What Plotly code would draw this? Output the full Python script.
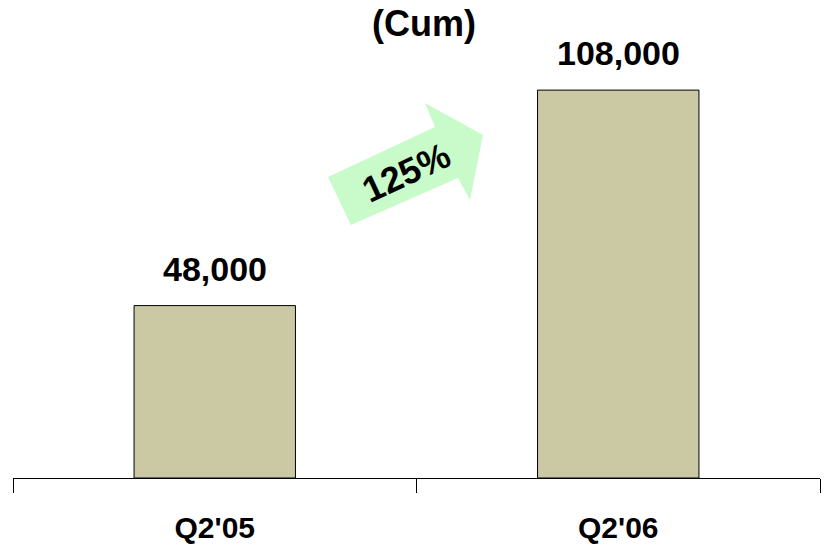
import plotly.graph_objects as go

categories = ["Q2'05", "Q2'06"]
values = [48000, 108000]
value_labels = ["48,000", "108,000"]
title_text = "(Cum)"
growth_text = "125%"

W, H = 825, 546
ML, MR, MT, MB = 13, 5, 47, 68
PW, PH = W - ML - MR, H - MT - MB


def px(x, y):
    return (x - ML) / PW, (H - MB - y) / PH


arrow_pts = [(328, 177), (435, 127), (425, 103), (483, 135), (470, 200), (458, 178), (351, 225)]
path = "M " + " L ".join(f"{px(x, y)[0]:.4f},{px(x, y)[1]:.4f}" for x, y in arrow_pts) + " Z"

FONT = "Liberation Sans, Arial, sans-serif"

fig = go.Figure()
fig.add_trace(go.Bar(
    x=categories, y=values, width=0.4,
    marker=dict(color="#CBC8A4", line=dict(color="black", width=1)),
    hoverinfo="skip",
))

for c, v, t in zip(categories, values, value_labels):
    fig.add_annotation(x=c, y=v, text=f"<b>{t}</b>", showarrow=False,
                       yanchor="bottom", yshift=16,
                       font=dict(family=FONT, size=34, color="black"))

fig.add_shape(type="path", path=path, xref="paper", yref="paper",
              fillcolor="#C9FAC9", line=dict(width=0), layer="above")
tx, ty = px(406, 172)
fig.add_annotation(x=tx, y=ty, xref="paper", yref="paper", text=f"<b>{growth_text}</b>",
                   showarrow=False, textangle=-25, xanchor="center", yanchor="middle",
                   font=dict(family=FONT, size=36, color="black"))

fig.update_layout(
    width=W, height=H,
    margin=dict(l=ML, r=MR, t=MT, b=MB, autoexpand=False),
    paper_bgcolor="white", plot_bgcolor="white",
    showlegend=False,
    title=dict(text=f"<b>{title_text}</b>", x=424 / W, xanchor="center", y=1 - 23 / H,
               yanchor="middle", yref="container",
               font=dict(family=FONT, size=36, color="black")),
    xaxis=dict(range=[-0.5, 1.5], showline=True, linecolor="black", linewidth=1,
               ticks="outside", tickson="boundaries", ticklen=14, tickcolor="black",
               tickwidth=1, ticklabelstandoff=23, automargin=False,
               tickfont=dict(family=FONT, size=30, color="black"),
               tickvals=categories, ticktext=[f"<b>{c}</b>" for c in categories],
               showgrid=False, zeroline=False),
    yaxis=dict(range=[0, 120000], visible=False, showgrid=False, zeroline=False),
)

fig.write_html("out.html")
